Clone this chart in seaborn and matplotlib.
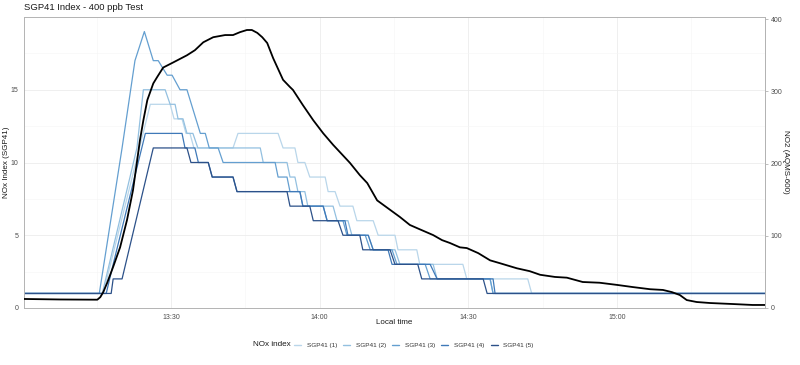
import numpy as np
import pandas as pd
import matplotlib
matplotlib.use("Agg")
import matplotlib.pyplot as plt
from matplotlib.lines import Line2D
import seaborn as sns

# ---------------- data (minutes after 13:00, value) ----------------
sensor_names = ["SGP41 (1)", "SGP41 (2)", "SGP41 (3)", "SGP41 (4)", "SGP41 (5)"]
sensor_colors = ["#b9d6ea", "#93c0e0", "#649fd0", "#3f79b8", "#2c5189"]

sgp1 = [(0.3, 1), (16.3, 1), (25.8, 14), (29.8, 14), (30.6, 13), (32.2, 13), (33.0, 12), (33.8, 12),
        (34.6, 11), (42.5, 11), (43.5, 12), (51.6, 12), (52.6, 11), (55.0, 11), (55.6, 10), (57.0, 10),
        (58.0, 9), (61.1, 9), (61.7, 8), (63.1, 8), (64.1, 7), (66.7, 7), (67.5, 6), (70.8, 6),
        (71.8, 5), (75.2, 5), (75.8, 4), (79.6, 4), (80.2, 3), (88.9, 3), (89.7, 2), (102.0, 2),
        (102.8, 1), (149.9, 1)]
sgp2 = [(0.3, 1), (16.1, 1), (23.1, 11), (24.4, 15), (28.8, 15), (29.8, 14), (30.8, 14), (31.4, 13),
        (32.4, 13), (33.2, 12), (34.4, 12), (35.4, 11), (48.0, 11), (48.6, 10), (53.4, 10), (54.0, 9),
        (55.0, 9), (55.6, 8), (57.0, 8), (57.6, 7), (62.7, 7), (63.5, 6), (65.7, 6), (66.5, 5),
        (69.8, 5), (70.8, 4), (75.2, 4), (76.2, 3), (82.9, 3), (83.7, 2), (94.4, 2), (95.0, 1), (149.9, 1)]
sgp3 = [(0.3, 1), (15.5, 1), (20.1, 11), (22.7, 17), (24.6, 19), (26.4, 17), (27.4, 17), (29.2, 16),
        (30.2, 16), (31.8, 15), (33.2, 15), (35.9, 12), (36.9, 12), (37.7, 11), (39.5, 11), (40.5, 10),
        (51.0, 10), (51.6, 9), (53.4, 9), (54.0, 8), (56.0, 8), (56.6, 7), (60.7, 7), (61.5, 6),
        (64.7, 6), (65.5, 5), (69.2, 5), (70.2, 4), (74.6, 4), (75.6, 3), (81.3, 3), (82.3, 2),
        (94.4, 2), (95.0, 1), (149.9, 1)]
sgp4 = [(0.3, 1), (16.9, 1), (18.3, 3), (24.8, 12), (32.2, 12), (32.8, 11), (34.8, 11), (35.5, 10),
        (37.5, 10), (38.3, 9), (42.5, 9), (43.3, 8), (56.0, 8), (56.6, 7), (60.7, 7), (61.5, 6),
        (65.1, 6), (65.7, 5), (69.8, 5), (70.8, 4), (73.8, 4), (74.6, 3), (82.3, 3), (83.7, 2),
        (95.0, 2), (95.4, 1), (149.9, 1)]
sgp5 = [(0.3, 1), (17.9, 1), (18.3, 2), (20.1, 2), (26.4, 11), (33.2, 11), (34.0, 10), (37.5, 10),
        (38.3, 9), (42.5, 9), (43.3, 8), (53.4, 8), (54.0, 7), (58.0, 7), (58.7, 6), (63.7, 6),
        (64.7, 5), (68.1, 5), (68.7, 4), (74.2, 4), (75.2, 3), (79.8, 3), (80.6, 2), (93.0, 2),
        (93.8, 1), (149.9, 1)]

no2 = [(0.3, 12.5), (7.6, 11.8), (15.1, 11.5), (15.7, 15), (16.3, 22), (17.1, 35), (18.3, 57),
       (19.7, 84), (21.1, 122), (22.3, 163), (23.1, 202), (23.7, 232), (24.4, 260), (25.2, 288),
       (26.4, 311), (27.2, 320), (28.4, 333), (30.4, 340), (31.8, 345), (33.2, 350), (34.8, 357),
       (36.5, 368), (38.5, 375), (39.3, 376), (40.9, 378), (42.5, 378), (43.9, 382), (45.3, 385),
       (46.3, 385), (47.4, 381), (48.4, 375), (49.4, 367), (50.6, 346), (52.0, 325), (52.6, 316),
       (54.0, 306), (54.6, 302), (56.6, 281), (58.7, 260), (60.7, 242), (62.7, 226), (66.1, 201),
       (68.1, 184), (69.6, 173), (71.6, 149), (72.8, 143), (74.2, 136), (76.2, 126), (78.2, 115),
       (80.2, 109), (82.9, 101), (84.7, 94), (86.3, 90), (88.3, 84), (89.7, 83), (92.0, 76),
       (94.4, 66), (96.4, 62), (99.8, 55), (102.4, 51), (104.5, 46), (107.5, 43), (109.9, 42),
       (113.1, 36), (116.5, 35), (120.0, 32), (123.2, 29), (126.7, 26), (129.3, 25), (131.1, 22),
       (132.7, 18), (134.1, 11), (136.1, 8.3), (138.8, 6.9), (143.4, 5.5), (147.4, 4.2), (149.9, 4.2)]

x_tick_minutes = [30, 60, 90, 120]
x_tick_labels = ["13:30", "14:00", "14:30", "15:00"]
x_minor_minutes = [15, 45, 75, 105, 135]
left_ticks = [0, 5, 10, 15]
left_minor = [2.5, 7.5, 12.5, 17.5]
right_ticks = [0, 100, 200, 300, 400]
sec_factor = 20.15  # NO2 units per NOx-index unit (secondary axis, as in ggplot sec_axis)

# ---------------- build frames ----------------
frames = []
for name, series in zip(sensor_names, [sgp1, sgp2, sgp3, sgp4, sgp5]):
    frames.append(pd.DataFrame({"minute": [m for m, _ in series],
                                "value": [v for _, v in series],
                                "sensor": name}))
df = pd.concat(frames, ignore_index=True)
df_no2 = pd.DataFrame({"minute": [m for m, _ in no2], "no2": [v for _, v in no2]})
df_no2["scaled"] = df_no2["no2"] / sec_factor

# ---------------- plot ----------------
sns.set_style("white")
plt.rcParams["font.family"] = ["Liberation Sans", "DejaVu Sans"]

W, H = 800, 365
fig = plt.figure(figsize=(W / 100, H / 100), dpi=100)
ax = fig.add_axes([24 / W, 1 - 308 / H, (765 - 24) / W, (308 - 17) / H])

sns.lineplot(data=df, x="minute", y="value", hue="sensor", hue_order=sensor_names,
             palette=dict(zip(sensor_names, sensor_colors)), estimator=None,
             lw=0.9, legend=False, ax=ax)
sns.lineplot(data=df_no2, x="minute", y="scaled", color="black", lw=1.3, estimator=None,
             ax=ax, zorder=5)

ax.set_xlim(0.3, 149.9)
ax.set_ylim(0, 20)
ax.set_xticks(x_tick_minutes)
ax.set_xticklabels(x_tick_labels)
ax.set_xticks(x_minor_minutes, minor=True)
ax.set_yticks(left_ticks)
ax.set_yticks(left_minor, minor=True)
ax.set_axisbelow(True)
ax.xaxis.grid(True, which="major", color="#ececec", lw=0.6)
ax.yaxis.grid(True, which="major", color="#ececec", lw=0.6)
ax.xaxis.grid(True, which="minor", color="#f5f5f5", lw=0.4)
ax.yaxis.grid(True, which="minor", color="#f5f5f5", lw=0.4)

sec = ax.secondary_yaxis("right", functions=(lambda y: y * sec_factor, lambda y: y / sec_factor))
sec.set_yticks(right_ticks)

tick_col = "#b3b3b3"
ax.tick_params(which="major", length=2.5, width=0.6, color=tick_col,
               labelsize=5, labelcolor="#4d4d4d", pad=1.5)
ax.tick_params(which="minor", length=0)
sec.tick_params(which="major", length=2.5, width=0.6, color=tick_col,
                labelsize=5, labelcolor="#4d4d4d", pad=1.5)
sec.tick_params(which="minor", length=0)
for s in ax.spines.values():
    s.set_color(tick_col)
    s.set_linewidth(0.7)
for s in sec.spines.values():
    s.set_color(tick_col)
    s.set_linewidth(0.7)

ax.set_xlabel("")
ax.set_ylabel("")
txt_col = "#1a1a1a"
fig.text(394 / W, 1 - 322 / H, "Local time", fontsize=5.8, color=txt_col, ha="center", va="center")
fig.text(7 / W, 1 - 162 / H, "NOx Index (SGP41)", fontsize=5.8, color=txt_col,
         rotation=90, ha="center", va="center")
fig.text(786 / W, 1 - 162 / H, "NO2 (AQMS-600)", fontsize=5.8, color=txt_col,
         rotation=-90, ha="center", va="center")
fig.text(24 / W, 1 - 8 / H, "SGP41 Index - 400 ppb Test", fontsize=6.8, color=txt_col,
         ha="left", va="center")

# legend
fig.text(253 / W, 1 - 345 / H, "NOx index", fontsize=5.9, color=txt_col, ha="left", va="center")
handles = [Line2D([0], [0], color=c, lw=1.0) for c in sensor_colors]
ax.legend(handles, sensor_names, ncol=5, loc="center left",
          bbox_to_anchor=(294 / W, 1 - 345 / H), bbox_transform=fig.transFigure,
          frameon=False, fontsize=4.6, handlelength=1.1, handletextpad=0.9,
          columnspacing=0.95, borderpad=0, borderaxespad=0, labelcolor="#333333")

fig.savefig("out.png", dpi=100)
